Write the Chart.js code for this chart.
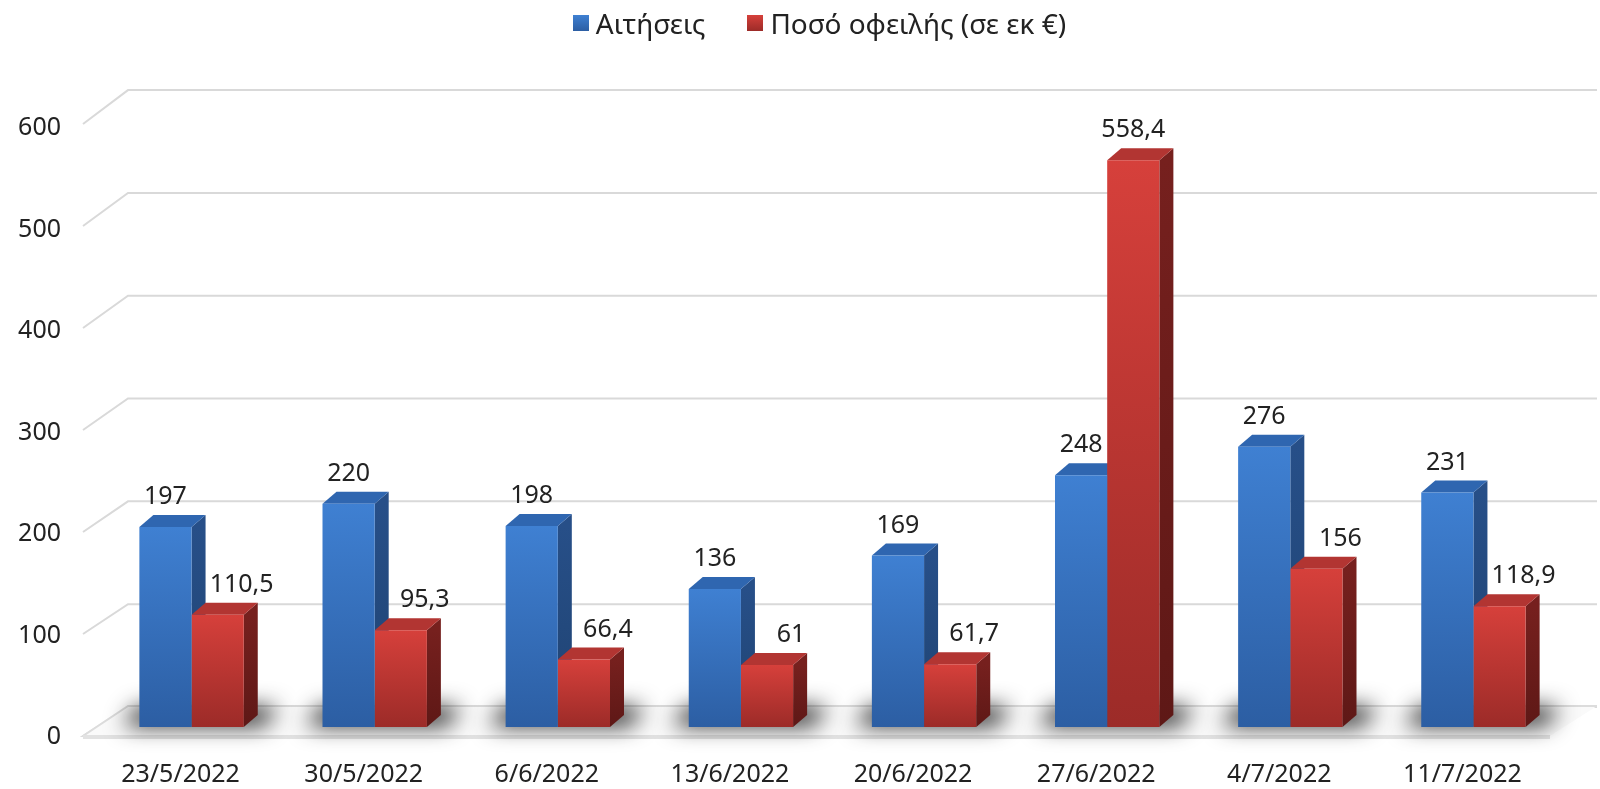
<!DOCTYPE html>
<html lang="el">
<head>
    <meta charset="UTF-8">
    <title>Αιτήσεις και ποσό οφειλής</title>
    <script src="https://cdn.jsdelivr.net/npm/chart.js"></script>
    <style>
        html, body {
            margin: 0;
            padding: 0;
            background: #ffffff;
            overflow: hidden;
        }
        #wrap {
            position: relative;
            width: 1600px;
            height: 789px;
        }
        #legend {
            position: absolute;
            top: 0;
            left: 0;
            width: 1600px;
            height: 45px;
            padding-left: 39px;
            box-sizing: border-box;
            display: flex;
            justify-content: center;
            align-items: center;
            font-family: 'Noto Sans', 'DejaVu Sans', sans-serif;
            font-size: 28px;
            color: #222222;
        }
        .legend-item {
            display: flex;
            align-items: center;
            margin: 0 21px;
            white-space: nowrap;
        }
        .legend-box {
            width: 16px;
            height: 16px;
            margin-right: 7px;
        }
    </style>
</head>
<body>
    <div id="wrap">
        <div id="legend"></div>
        <canvas id="chart" width="1600" height="789"></canvas>
    </div>

    <script>
        const weeks = ['23/5/2022', '30/5/2022', '6/6/2022', '13/6/2022', '20/6/2022', '27/6/2022', '4/7/2022', '11/7/2022'];
        const applications = [197, 220, 198, 136, 169, 248, 276, 231];
        const amountOwed = [110.5, 95.3, 66.4, 61, 61.7, 558.4, 156, 118.9];
        const yTicks = [0, 100, 200, 300, 400, 500, 600];

        const FONT = "'Noto Sans', 'DejaVu Sans', sans-serif";
        const TEXT = '#222222';
        const DEPTH_X = 14, DEPTH_Y = 12;
        const PX_PER_UNIT = 1.015;

        // front / side / top colours for the two series
        const palette = [
            { light: '#3f80d2', dark: '#2c5ea3', side: '#274f88', sideDark: '#1f4372', top: '#2f66b0' },
            { light: '#d6403b', dark: '#9c2b28', side: '#76201e', sideDark: '#5e1816', top: '#b23532' }
        ];

        function frontFill(idx) {
            return function (ctx) {
                const p = palette[idx];
                const chart = ctx.chart;
                if (ctx.type !== 'data' || !chart.chartArea) return p.light;
                const top = chart.scales.y.getPixelForValue(ctx.raw);
                const g = chart.ctx.createLinearGradient(0, top, 0, chart.chartArea.bottom);
                g.addColorStop(0, p.light);
                g.addColorStop(1, p.dark);
                return g;
            };
        }

        // keep the value scale at a fixed pixel pitch, whatever the plot height
        const fixedPitch = {
            id: 'fixedPitch',
            afterLayout(chart) {
                const s = chart.scales.y;
                s.max = (s.bottom - s.top) / PX_PER_UNIT;
                s.configure();
            }
        };

        // legend as html, built from the datasets
        const htmlLegend = {
            id: 'htmlLegend',
            afterUpdate(chart) {
                const box = document.getElementById('legend');
                box.innerHTML = '';
                chart.data.datasets.forEach((ds, i) => {
                    const item = document.createElement('div');
                    item.className = 'legend-item';
                    const sw = document.createElement('span');
                    sw.className = 'legend-box';
                    sw.style.background = `linear-gradient(${palette[i].light}, ${palette[i].dark})`;
                    const txt = document.createElement('span');
                    txt.textContent = ds.label;
                    item.appendChild(sw);
                    item.appendChild(txt);
                    box.appendChild(item);
                });
            }
        };

        // floor, back wall grid lines and the sides/tops of the bars
        const threeD = {
            id: 'threeD',
            beforeDatasetsDraw(chart) {
                const ctx = chart.ctx;
                const { left: L, right: R, bottom: B } = chart.chartArea;
                const y = chart.scales.y;

                ctx.save();
                // grid lines on the back wall, with the diagonal on the left wall
                ctx.strokeStyle = '#d9d9d9';
                ctx.lineWidth = 2;
                yTicks.forEach(v => {
                    const yf = y.getPixelForValue(v * 1.005) + 9;
                    const yb = y.getPixelForValue(v * 1.013) - 20;
                    ctx.beginPath();
                    ctx.moveTo(L - 17, yf);
                    ctx.lineTo(L + 28, yb);
                    ctx.lineTo(R + 32, yb);
                    ctx.stroke();
                });

                // floor
                const fy = B + 9, by = B - 21;
                ctx.beginPath();
                ctx.moveTo(R - 15, fy);
                ctx.lineTo(L - 17, fy);
                ctx.lineTo(L + 28, by);
                ctx.lineTo(R + 32, by);
                ctx.fillStyle = '#fafafa';
                ctx.fill();
                ctx.strokeStyle = '#dcdcdc';
                ctx.lineWidth = 2;
                ctx.stroke();
                ctx.fillStyle = '#e2e2e2';
                ctx.fillRect(L - 17, fy - 1, R - L + 2, 4);

                // soft shadows under each group (drawn off-canvas, only the shadow lands)
                const m0 = chart.getDatasetMeta(0).data;
                const m1 = chart.getDatasetMeta(1).data;
                const off = 4000;
                ctx.shadowColor = 'rgba(0,0,0,0.85)';
                ctx.shadowBlur = 22;
                ctx.shadowOffsetX = off;
                ctx.shadowOffsetY = 0;
                ctx.fillStyle = '#000';
                m0.forEach((b0, i) => {
                    const b1 = m1[i];
                    const x1 = b0.x - b0.width / 2 - 16, x2 = b1.x + b1.width / 2 + DEPTH_X + 20;
                    ctx.beginPath();
                    ctx.moveTo(x1 - off, B - 1);
                    ctx.lineTo(x1 + DEPTH_X - off, B - DEPTH_Y - 8);
                    ctx.lineTo(x2 - off, B - DEPTH_Y - 8);
                    ctx.lineTo(x2 - DEPTH_X - off, B - 1);
                    ctx.closePath();
                    ctx.fill();
                });
                ctx.shadowColor = 'transparent';
                ctx.shadowBlur = 0;
                ctx.shadowOffsetX = 0;

                // side and top faces, before the fronts so neighbours hide them
                [0, 1].forEach(di => {
                    const p = palette[di];
                    chart.getDatasetMeta(di).data.forEach(bar => {
                        const x1 = bar.x - bar.width / 2, x2 = bar.x + bar.width / 2;
                        const t = bar.y, b = bar.base;
                        const sg = ctx.createLinearGradient(0, t, 0, b);
                        sg.addColorStop(0, p.side);
                        sg.addColorStop(1, p.sideDark);
                        ctx.fillStyle = sg;
                        ctx.beginPath();
                        ctx.moveTo(x2, t);
                        ctx.lineTo(x2 + DEPTH_X, t - DEPTH_Y);
                        ctx.lineTo(x2 + DEPTH_X, b - DEPTH_Y);
                        ctx.lineTo(x2, b);
                        ctx.closePath();
                        ctx.fill();

                        ctx.fillStyle = p.top;
                        ctx.beginPath();
                        ctx.moveTo(x1, t);
                        ctx.lineTo(x1 + DEPTH_X, t - DEPTH_Y);
                        ctx.lineTo(x2 + DEPTH_X, t - DEPTH_Y);
                        ctx.lineTo(x2, t);
                        ctx.closePath();
                        ctx.fill();
                    });
                });
                ctx.restore();
            },
            afterDatasetsDraw(chart) {
                const ctx = chart.ctx;
                ctx.save();
                ctx.font = '25px ' + FONT;
                ctx.fillStyle = TEXT;
                ctx.textAlign = 'center';
                ctx.textBaseline = 'middle';
                const blue = chart.data.datasets[0].data;
                chart.data.datasets.forEach((ds, di) => {
                    chart.getDatasetMeta(di).data.forEach((bar, i) => {
                        const txt = String(ds.data[i]).replace('.', ',');
                        // red labels move right when the blue bar beside them is taller
                        const dx = di === 1 && ds.data[i] < blue[i] ? 24 : 0;
                        ctx.fillText(txt, bar.x + dx, bar.y - 30);
                    });
                });
                ctx.restore();
            }
        };

        new Chart(document.getElementById('chart'), {
            type: 'bar',
            data: {
                labels: weeks,
                datasets: [
                    {
                        label: 'Αιτήσεις',
                        data: applications,
                        backgroundColor: frontFill(0),
                        borderWidth: 0
                    },
                    {
                        label: 'Ποσό οφειλής (σε εκ €)',
                        data: amountOwed,
                        backgroundColor: frontFill(1),
                        borderWidth: 0
                    }
                ]
            },
            options: {
                responsive: false,
                animation: false,
                layout: {
                    padding: { top: 45, right: 35, bottom: 0, left: 0 }
                },
                datasets: {
                    bar: { barPercentage: 1, categoryPercentage: 0.57 }
                },
                plugins: {
                    tooltip: { enabled: false },
                    legend: { display: false }
                },
                scales: {
                    x: {
                        grid: { display: false, drawTicks: false },
                        border: { display: false },
                        ticks: {
                            color: TEXT,
                            padding: 33,
                            labelOffset: -11,
                            maxRotation: 0,
                            font: { family: FONT, size: 25 }
                        },
                        afterFit: s => { s.height = 62; }
                    },
                    y: {
                        min: 0,
                        max: 672,
                        grid: { display: false, drawTicks: false },
                        border: { display: false },
                        ticks: {
                            color: TEXT,
                            padding: 39,
                            labelOffset: 10,
                            font: { family: FONT, size: 25 }
                        },
                        afterBuildTicks: s => { s.ticks = yTicks.map(v => ({ value: v })); },
                        afterFit: s => { s.width = 100; }
                    }
                }
            },
            plugins: [fixedPitch, htmlLegend, threeD]
        });
    </script>
</body>
</html>
